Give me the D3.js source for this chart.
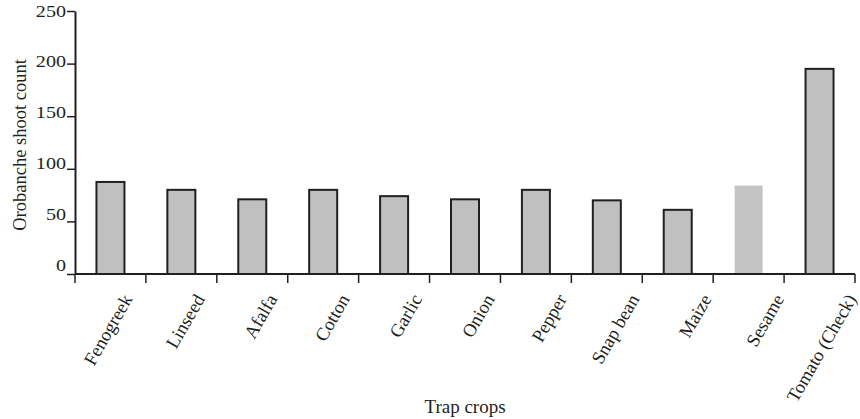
<!DOCTYPE html>
<html>
<head>
<meta charset="utf-8">
<script src="https://cdn.jsdelivr.net/npm/d3@7"></script>
<style>
  body { margin: 0; background: #fff; }
  text { font-family: "Liberation Serif", "Times New Roman", serif; fill: #231f20; }
</style>
</head>
<body>
<div id="chart"></div>
<script>
// trap crops and orobanche shoot counts
var crops = ["Fenogreek", "Linseed", "Afalfa", "Cotton", "Garlic", "Onion", "Pepper", "Snap bean", "Maize", "Sesame", "Tomato (Check)"];
var shoots = [87.5, 80, 71, 80, 74, 71, 80, 70, 61, 84, 195];
var yTicks = [0, 50, 100, 150, 200, 250];

var width = 860, height = 419;
var plotLeft = 75, plotRight = 855, plotTop = 11, plotBottom = 274;

var svg = d3.select("#chart")
    .append("svg")
    .attr("width", width)
    .attr("height", height);

var x = d3.scaleBand()
    .domain(crops)
    .range([plotLeft, plotRight])
    .paddingInner(0)
    .paddingOuter(0);

var y = d3.scaleLinear()
    .domain([0, 250])
    .range([plotBottom, plotTop]);

// label positions drift a little to the right of the bars in the original
var xLabel = d3.scalePoint()
    .domain(crops)
    .range([133, 857]);

var barW = 28;

// bars
svg.selectAll(".bar")
    .data(crops)
    .enter()
    .append("rect")
    .attr("class", "bar")
    .attr("x", function (d) { return x(d) + x.bandwidth() / 2 - barW / 2; })
    .attr("y", function (d, i) { return y(shoots[i]); })
    .attr("width", barW)
    .attr("height", function (d, i) { return plotBottom - y(shoots[i]); })
    .attr("fill", function (d) { return d == "Sesame" ? "#c4c4c4" : "#c0c0c0"; })
    .attr("stroke", function (d) { return d == "Sesame" ? "none" : "#231f20"; })
    .attr("stroke-width", 2);

// y axis
var yAxis = svg.append("g")
    .attr("transform", "translate(" + plotLeft + ",0)")
    .call(d3.axisLeft(y).tickValues(yTicks).tickSize(8).tickSizeOuter(0).tickPadding(9));

yAxis.select(".domain").attr("stroke", "#231f20").attr("stroke-width", 2);
yAxis.selectAll(".tick line").attr("stroke", "#231f20").attr("stroke-width", 1.5);
yAxis.selectAll(".tick text")
    .attr("font-family", "Liberation Serif")
    .attr("font-size", 16.5)
    .attr("fill", "#231f20")
    .attr("x", -9 / 1.22)
    .attr("dy", function (d) { return (-(250 - d) / 250 * 9 + 5) + "px"; })
    .attr("transform", "scale(1.22,1)");

// x axis
var xAxis = svg.append("g")
    .attr("transform", "translate(0," + plotBottom + ")");

xAxis.append("line")
    .attr("x1", plotLeft).attr("x2", plotRight)
    .attr("y1", 0).attr("y2", 0)
    .attr("stroke", "#231f20").attr("stroke-width", 2);

var edges = crops.map(function (d) { return x(d); }).concat([plotRight]);
xAxis.selectAll(".xtick")
    .data(edges)
    .enter()
    .append("line")
    .attr("x1", function (d) { return d; })
    .attr("x2", function (d) { return d; })
    .attr("y1", 0).attr("y2", 9)
    .attr("stroke", "#231f20").attr("stroke-width", 1.5);

svg.selectAll(".xlabel")
    .data(crops)
    .enter()
    .append("text")
    .attr("class", "xlabel")
    .attr("transform", function (d) { return "translate(" + xLabel(d) + ",299) rotate(-60)"; })
    .style("text-anchor", "end")
    .style("font-size", "18.5px")
    .text(function (d) { return d; });

// axis titles
svg.append("text")
    .attr("transform", "translate(26,145) rotate(-90)")
    .style("text-anchor", "middle")
    .style("font-size", "18.5px")
    .text("Orobanche shoot count");

svg.append("text")
    .attr("x", 465)
    .attr("y", 413)
    .style("text-anchor", "middle")
    .style("font-size", "19px")
    .text("Trap crops");
</script>
</body>
</html>
